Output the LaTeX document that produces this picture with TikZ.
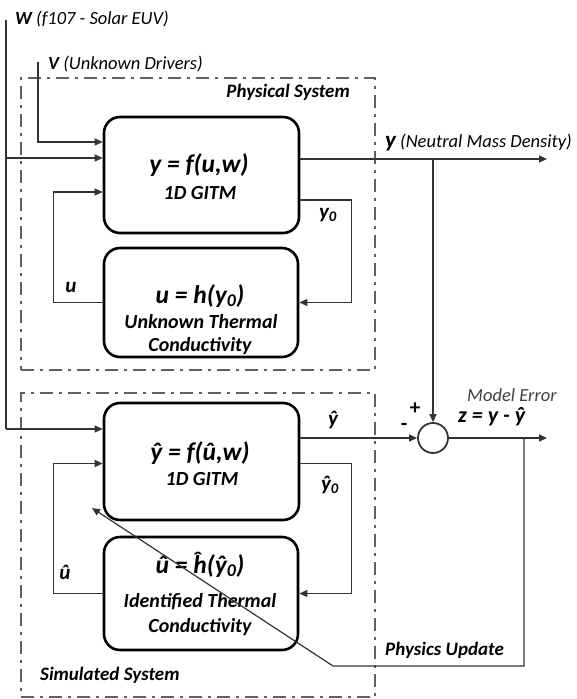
\documentclass[tikz,border=0pt]{standalone}
\usepackage{fontspec}
\setmainfont{Carlito}
\usetikzlibrary{arrows.meta}
\begin{document}
\begin{tikzpicture}[x=1pt,y=-1pt,
  blk/.style={draw=black, line width=2.6pt, rounded corners=16pt, inner sep=0pt},
  sysbox/.style={draw=black!62, line width=2.8pt, dash pattern=on 13pt off 6pt on 3pt off 6pt, inner sep=0pt},
  conn/.style={draw=black!80, line width=1.2pt},
  arr/.style={conn, -{Triangle[length=8pt,width=7pt]}},
  eq/.style={font=\fontsize{25.5}{30}\selectfont\bfseries\itshape, inner sep=0pt, anchor=base},
  subt/.style={font=\fontsize{20}{24}\selectfont\bfseries\itshape, inner sep=0pt, anchor=base},
  lbl/.style={font=\fontsize{19}{22}\selectfont\bfseries\itshape, inner sep=0pt},
  itl/.style={font=\fontsize{18.5}{22}\selectfont\itshape, inner sep=0pt}
]
\useasboundingbox (0,0) rectangle (576,699);

% system frames
\node[sysbox, minimum width=354pt, minimum height=292pt] (phys) at (198,224) {};
\node[sysbox, minimum width=354pt, minimum height=304pt] (sim) at (198,545) {};

% blocks
\node[blk, minimum width=195pt, minimum height=116pt] (b1) at (201.5,175) {};
\node[blk, minimum width=194pt, minimum height=109pt] (b2) at (201,302.5) {};
\node[blk, minimum width=195pt, minimum height=117pt] (b3) at (201.5,461.5) {};
\node[blk, minimum width=194pt, minimum height=113pt] (b4) at (201,593.5) {};

% block texts
\node[eq] (t1a) at (199,172) {y = f(u,w)};
\node[subt] (t1b) at (200,199) {1D GITM};
\node[eq] (t2a) at (200,303) {u = h(y\textsubscript{0})};
\node[subt] (t2b) at (201,328) {Unknown Thermal};
\node[subt] (t2c) at (200,351) {Conductivity};
\node[eq] (t3a) at (200,460) {ŷ = f(û,w)};
\node[subt] (t3b) at (202,485) {1D GITM};
\node[eq] (t4a) at (200,573) {û = ĥ(ŷ\textsubscript{0})};
\node[subt] (t4b) at (200,607) {Identified Thermal};
\node[subt] (t4c) at (200,632) {Conductivity};

% summing junction
\node[circle, draw=black!80, line width=1.8pt, minimum size=30pt, inner sep=0pt] (sum) at (433,438) {};

% coordinates
\coordinate (wtop) at (6,20);
\coordinate (wj1) at (6,158);
\coordinate (wcorner) at (6,429);
\coordinate (vtop) at (38,62);
\coordinate (yend) at (547,159);
\coordinate (yj) at (433,159);
\coordinate (zend) at (547,438);
\coordinate (zj) at (524,438);
\coordinate (pu1) at (524,666);
\coordinate (pu2) at (333,666);
\coordinate (putip) at (92,508);

% connectors
\draw[conn] (wtop) -- (wcorner);
\draw[arr] (wcorner) -- (wcorner -| b3.west);
\draw[arr] (wj1) -- (wj1 -| b1.west);
\draw[arr] (vtop) |- ([yshift=33pt]b1.west);
\draw[arr] (b2.west) -- ++(-49,0) |- ([yshift=-17pt]b1.west);
\draw[arr] ([yshift=-25pt]b1.east) -- ++(51,0) |- (b2.east);
\draw[arr] (yj -| b1.east) -- (yend);
\draw[arr] (yj) -- (sum.north);
\draw[arr] (sum -| b3.east) -- (sum.west);
\draw[arr] (sum.east) -- (zend);
\draw[arr] (zj) -- (pu1) -- (pu2) -- (putip);
\draw[arr] (b4.west) -- ++(-49,0) |- ([yshift=-2pt]b3.west);
\draw[arr] ([yshift=-2pt]b3.east) -- ++(51,0) |- (b4.east);

% labels
\node[itl, anchor=base west] (lw) at (15,24) {{\bfseries W} (f107 - Solar EUV)};
\node[itl, anchor=base west] (lv) at (48,69) {{\bfseries V} (Unknown Drivers)};
\node[lbl, anchor=base east] (lphys) at (350,97) {Physical System};
\node[lbl, anchor=base west] (lsim) at (40,680) {Simulated System};
\node[lbl, anchor=base west] (lpu) at (385,655) {Physics Update};
\node[itl, anchor=base west] (ly) at (385,147) {{\bfseries\fontsize{23}{26}\selectfont y} (Neutral Mass Density)};
\node[itl, anchor=base west, text=black!75] (lme) at (467,401) {Model Error};
\node[lbl, anchor=base west, font=\fontsize{22}{26}\selectfont\bfseries\itshape] (lz) at (458,422) {z = y - ŷ};
\node[lbl, font=\fontsize{21}{24}\selectfont\bfseries] (lplus) at (415,409) {+};
\node[lbl, font=\fontsize{21}{24}\selectfont\bfseries] (lminus) at (404,427) {-};
\node[lbl, font=\fontsize{21}{24}\selectfont\bfseries\itshape] (lyh) at (333,420) {ŷ};
\node[lbl, font=\fontsize{21}{24}\selectfont\bfseries\itshape] (lu) at (71,287) {u};
\node[lbl, font=\fontsize{21}{24}\selectfont\bfseries\itshape] (ly0) at (328,215) {y\textsubscript{0}};
\node[lbl, font=\fontsize{21}{24}\selectfont\bfseries\itshape] (luh) at (65,572) {û};
\node[lbl, font=\fontsize{21}{24}\selectfont\bfseries\itshape] (lyh0) at (330,485) {ŷ\textsubscript{0}};
\end{tikzpicture}
\end{document}
